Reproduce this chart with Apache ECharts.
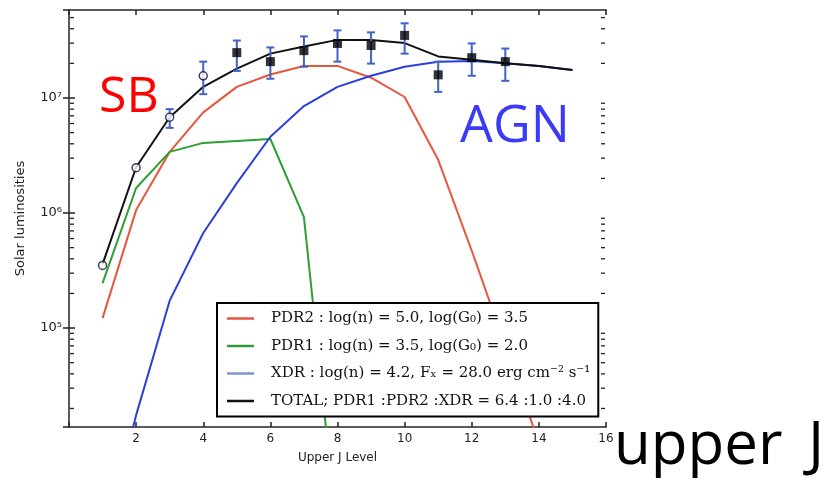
<!DOCTYPE html>
<html>
<head>
<meta charset="utf-8">
<script src="https://cdn.jsdelivr.net/npm/echarts@6/dist/echarts.min.js"></script>
<style>
  html, body { margin: 0; padding: 0; background: #fff; }
  #chart { width: 831px; height: 480px; }
</style>
</head>
<body>
<div id="chart"></div>
<script>
// upper J level of each model point
const jLevels = [1, 2, 3, 4, 5, 6, 7, 8, 9, 10, 11, 12, 13, 14, 15]

// model curves (solar luminosities)
const pdr2 = [1.22e5, 1.06e6, 3.4e6, 7.5e6, 1.25e7, 1.6e7, 1.9e7, 1.9e7, 1.5e7, 1.02e7, 2.9e6, 4.7e5, 7e4, 1e4, 1.5e3]
const pdr1 = [2.46e5, 1.65e6, 3.4e6, 4.07e6, 4.23e6, 4.4e6, 9.2e5, 1.5e3]
const xdr = [1.2e3, 1.75e4, 1.73e5, 6.7e5, 1.82e6, 4.6e6, 8.5e6, 1.25e7, 1.56e7, 1.87e7, 2.07e7, 2.1e7, 2.0e7, 1.9e7, 1.75e7]
const total = [3.6e5, 2.5e6, 6.8e6, 1.25e7, 1.8e7, 2.43e7, 2.8e7, 3.2e7, 3.2e7, 3.0e7, 2.3e7, 2.15e7, 2.0e7, 1.9e7, 1.75e7]

// observed points
const openJ = [1, 2, 3, 4]
const openVal = [3.5e5, 2.48e6, 6.8e6, 1.56e7]
const filledJ = [5, 6, 7, 8, 9, 10, 11, 12, 13]
const filledVal = [2.48e7, 2.07e7, 2.58e7, 2.98e7, 2.86e7, 3.5e7, 1.59e7, 2.24e7, 2.07e7]
const errJ = [3, 4, 5, 6, 7, 8, 9, 10, 11, 12, 13]
const errLow = [5.5e6, 1.08e7, 1.72e7, 1.47e7, 1.87e7, 2.07e7, 1.99e7, 2.43e7, 1.13e7, 1.56e7, 1.41e7]
const errHigh = [8.0e6, 2.07e7, 3.16e7, 2.75e7, 3.43e7, 3.87e7, 3.72e7, 4.46e7, 2.07e7, 2.98e7, 2.69e7]

// axes
const xTicks = [2, 4, 6, 8, 10, 12, 14, 16]
const yMin = 1.38e4
const yMax = 5.82e7
const yDecades = [4, 5, 6, 7]

const legendNames = [
  'PDR2 : log(n) = 5.0, log(G\u2080) = 3.5',
  'PDR1 : log(n) = 3.5, log(G\u2080) = 2.0',
  'XDR : log(n) = 4.2, F\u2093 = 28.0 erg cm\u207B\u00B2 s\u207B\u00B9',
  'TOTAL; PDR1 :PDR2 :XDR = 6.4 :1.0 :4.0',
]

const sup = { '4': '\u2074', '5': '\u2075', '6': '\u2076', '7': '\u2077' }
const frame = '#5a5a5a'
const tickFont = { fontFamily: 'DejaVu Sans', fontSize: 12, color: '#222' }
const lineIcon = 'path://M0,0L27,0L27,2.5L0,2.5Z'

const pairs = (xs, ys) => ys.map((v, i) => [xs[i], v])

function curve(name, values, color) {
  return {
    name,
    type: 'line',
    data: pairs(jLevels, values),
    symbol: 'none',
    lineStyle: { color, width: 2 },
    itemStyle: { color },
    z: 2,
  }
}

const chart = echarts.init(document.getElementById('chart'))

const xAxisBase = {
  type: 'value', min: 0, max: 16, interval: 2,
  axisLine: { lineStyle: { color: frame, width: 2 } },
  axisTick: { inside: true, length: 5, lineStyle: { color: '#222', width: 1.5 } },
  splitLine: { show: false },
}
const yAxisBase = {
  type: 'log', logBase: 10, min: yMin, max: yMax,
  axisLine: { show: true, lineStyle: { color: frame, width: 2 } },
  axisTick: { inside: true, length: 6, lineStyle: { color: '#222', width: 1.5 } },
  splitLine: { show: false },
}

chart.setOption({
  animation: false,
  grid: { left: 69, right: 225, top: 10, bottom: 53 },
  xAxis: [
    {
      ...xAxisBase,
      position: 'bottom',
      name: 'Upper J Level',
      nameLocation: 'middle',
      nameGap: 25,
      nameTextStyle: { fontFamily: 'DejaVu Sans', fontSize: 12, color: '#222' },
      axisLabel: { ...tickFont, margin: 6, formatter: (v) => (xTicks.includes(v) ? String(v) : '') },
    },
    { ...xAxisBase, position: 'top', axisLabel: { show: false } },
  ],
  yAxis: [
    {
      ...yAxisBase,
      position: 'left',
      name: 'Solar luminosities',
      nameLocation: 'middle',
      nameGap: 42,
      nameTextStyle: { fontFamily: 'DejaVu Sans', fontSize: 13, color: '#222' },
      axisLabel: {
        ...tickFont,
        fontSize: 13,
        margin: 7,
        showMinLabel: false,
        showMaxLabel: false,
        formatter: (v) => {
          const d = Math.round(Math.log10(v))
          return Math.abs(Math.log10(v) - d) < 1e-6 ? '10' + sup[String(d)] : ''
        },
      },
    },
    { ...yAxisBase, position: 'right', axisLabel: { show: false } },
  ],
  legend: {
    orient: 'vertical',
    left: 217,
    top: 303,
    backgroundColor: '#fff',
    borderColor: '#000',
    borderWidth: 2,
    borderRadius: 0,
    padding: [8, 8, 8, 10],
    itemWidth: 27,
    itemHeight: 14,
    itemGap: 12.5,
    icon: lineIcon,
    textStyle: { fontFamily: 'DejaVu Serif', fontSize: 15, color: '#111', padding: [0, 0, 0, 12] },
    data: [
      { name: legendNames[0] },
      { name: legendNames[1] },
      { name: legendNames[2], itemStyle: { color: '#7f96c8' } },
      { name: legendNames[3] },
    ],
  },
  series: [
    curve(legendNames[0], pdr2, '#e8553e'),
    curve(legendNames[1], pdr1, '#2e9e35'),
    curve(legendNames[2], xdr, '#2a3fdc'),
    curve(legendNames[3], total, '#111111'),
    {
      type: 'custom',
      data: errJ.map((j, i) => [j, errLow[i], errHigh[i]]),
      z: 3,
      renderItem: (params, api) => {
        const lo = api.coord([api.value(0), api.value(1)])
        const hi = api.coord([api.value(0), api.value(2)])
        const style = { stroke: '#4262c8', lineWidth: 2 }
        const w = 4
        return {
          type: 'group',
          children: [
            { type: 'line', shape: { x1: lo[0], y1: lo[1], x2: hi[0], y2: hi[1] }, style },
            { type: 'line', shape: { x1: lo[0] - w, y1: lo[1], x2: lo[0] + w, y2: lo[1] }, style },
            { type: 'line', shape: { x1: hi[0] - w, y1: hi[1], x2: hi[0] + w, y2: hi[1] }, style },
          ],
        }
      },
    },
    {
      type: 'scatter',
      data: pairs(filledJ, filledVal),
      symbol: 'rect',
      symbolSize: 9,
      itemStyle: { color: '#000' },
      z: 4,
    },
    {
      type: 'scatter',
      data: pairs(openJ, openVal),
      symbol: 'circle',
      symbolSize: 8,
      itemStyle: { color: '#fff', borderColor: '#0d1030', borderWidth: 1.5 },
      z: 4,
    },
  ],
})

// minor log ticks on both y frames, plus the overlaid annotation texts
const xl = chart.convertToPixel({ xAxisIndex: 0 }, 0)
const xr = chart.convertToPixel({ xAxisIndex: 0 }, 16)
const minorTicks = []
yDecades.forEach((d) => {
  for (let n = 2; n <= 9; n++) {
    const v = n * Math.pow(10, d)
    if (v < yMin || v > yMax) continue
    const y = chart.convertToPixel({ yAxisIndex: 0 }, v)
    const style = { stroke: '#222', lineWidth: 1.3 }
    minorTicks.push({ type: 'line', shape: { x1: xl + 1, y1: y, x2: xl + 5, y2: y }, style, z: 50 })
    minorTicks.push({ type: 'line', shape: { x1: xr - 1, y1: y, x2: xr - 5, y2: y }, style, z: 50 })
  }
})

chart.setOption({
  graphic: [
    ...minorTicks,
    { type: 'text', left: 99, top: 73, z: 100, style: { text: 'SB', fill: '#ff0000', font: '50px "Open Sans"' } },
    { type: 'text', left: 460, top: 101, z: 100, style: { text: 'AGN', fill: '#3b3bf5', font: '52px "Open Sans"' } },
    { type: 'text', left: 614, top: 417, z: 100, style: { text: 'upper \u2009J', fill: '#000', font: '60px "Open Sans"' } },
  ],
})
</script>
</body>
</html>
